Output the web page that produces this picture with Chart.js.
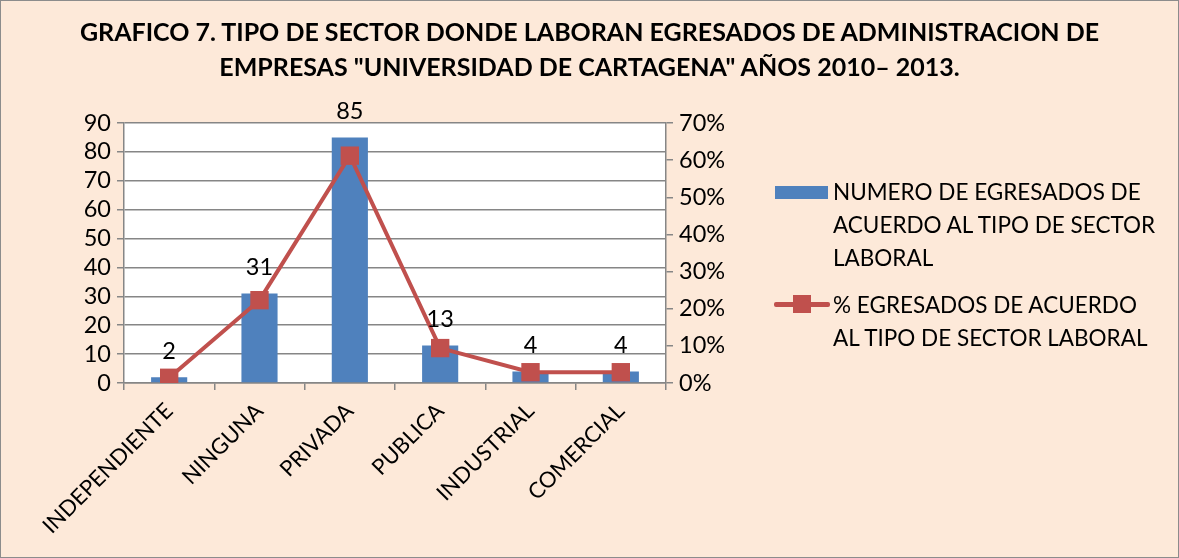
<!DOCTYPE html>
<html>
<head>
<meta charset="utf-8">
<script src="https://cdn.jsdelivr.net/npm/chart.js@4.4.0/dist/chart.umd.min.js"></script>
<style>
  html, body { margin: 0; padding: 0; }
  body { width: 1179px; height: 558px; overflow: hidden; }
  #wrap {
    position: relative; width: 1179px; height: 558px; box-sizing: border-box;
    background: #fde9d9; border: 1px solid #8c8c8c;
  }
  #chart { position: absolute; left: 0; top: 0; }
  #title {
    position: absolute; left: 0; top: 13px; width: 1177px; text-align: center;
    font-family: Lato, "Open Sans", sans-serif; font-weight: bold; font-size: 25px; line-height: 35px; color: #000;
  }
  .legend { position: absolute; font-family: Lato, "Open Sans", sans-serif; font-size: 22.5px; line-height: 33px; color: #000; white-space: nowrap; }
  .swatch { position: absolute; }
</style>
</head>
<body>
<div id="wrap">
  <canvas id="chart" width="1177" height="556"></canvas>
  <div id="title"></div>
  <div class="swatch" style="left:774px; top:185px; width:53px; height:13px; background:#4f81bd;"></div>
  <div class="legend" id="leg1" style="left:832px; top:174px;"></div>
  <div class="swatch" style="left:773px; top:301px; width:56px; height:5px; background:#c0504d; border-radius:2px;"></div>
  <div class="swatch" style="left:792px; top:294px; width:18px; height:18px; background:#c0504d;"></div>
  <div class="legend" id="leg2" style="left:832px; top:287px;"></div>
</div>
<script>
const categories = ["INDEPENDIENTE", "NINGUNA", "PRIVADA", "PUBLICA", "INDUSTRIAL", "COMERCIAL"];
const egresados = [2, 31, 85, 13, 4, 4];
const porcentajes = [0.014, 0.223, 0.612, 0.094, 0.029, 0.029];
const titleLines = [
    "GRAFICO 7. TIPO DE SECTOR DONDE LABORAN EGRESADOS DE ADMINISTRACION DE",
    "EMPRESAS \"UNIVERSIDAD DE CARTAGENA\" AÑOS 2010– 2013."
];
const legendBars = ["NUMERO DE EGRESADOS DE", "ACUERDO AL TIPO DE SECTOR", "LABORAL"];
const legendLine = ["% EGRESADOS DE ACUERDO", "AL TIPO DE SECTOR LABORAL"];

const FONT = "Lato, 'Open Sans', sans-serif";
const GRID = "#868686";

// texts outside the canvas
function fillLines(id, lines) {
    const el = document.getElementById(id);
    lines.forEach((line, i) => {
        if (i) el.appendChild(document.createElement("br"));
        el.appendChild(document.createTextNode(line));
    });
}
fillLines("title", titleLines);
fillLines("leg1", legendBars);
fillLines("leg2", legendLine);

// bar value labels above each bar
const barLabels = {
    id: "barLabels",
    afterDatasetsDraw(chart) {
        const ctx = chart.ctx;
        const meta = chart.getDatasetMeta(1);
        ctx.save();
        ctx.font = "23.5px " + FONT;
        ctx.fillStyle = "#000";
        ctx.textAlign = "center";
        ctx.textBaseline = "middle";
        meta.data.forEach((bar, i) => {
            ctx.fillText(String(egresados[i]), bar.x, bar.y - 26);
        });
        ctx.restore();
    }
};

new Chart(document.getElementById("chart").getContext("2d"), {
    data: {
        labels: categories,
        datasets: [
            {
                type: "line",
                label: legendLine.join(" "),
                data: porcentajes,
                yAxisID: "y2",
                borderColor: "#c0504d",
                backgroundColor: "#c0504d",
                borderWidth: 4,
                pointStyle: "rect",
                pointRadius: 13,
                pointBorderWidth: 0,
                tension: 0,
                order: 0
            },
            {
                type: "bar",
                label: legendBars.join(" "),
                data: egresados,
                yAxisID: "y",
                backgroundColor: "#4f81bd",
                barPercentage: 0.4,
                categoryPercentage: 1,
                order: 1
            }
        ]
    },
    options: {
        responsive: false,
        animation: false,
        layout: { padding: { left: 0, right: 436, top: 122, bottom: 0 } },
        plugins: {
            legend: { display: false },
            tooltip: { enabled: false },
            title: { display: false }
        },
        scales: {
            x: {
                offset: true,
                grid: { offset: true, drawOnChartArea: false, drawTicks: true, tickLength: 7, color: GRID, lineWidth: 1.5 },
                border: { color: GRID, width: 1.5 },
                ticks: { color: "#000", font: { family: FONT, size: 22 }, minRotation: 45, maxRotation: 45, padding: 8, autoSkip: false },
                afterFit(scale) { scale.height = 174; }
            },
            y: {
                position: "left",
                min: 0, max: 90,
                ticks: { stepSize: 10, color: "#000", font: { family: FONT, size: 23.5 }, padding: 6, autoSkip: false },
                grid: { color: GRID, lineWidth: 1.5, tickLength: 7 },
                border: { color: GRID, width: 1.5 },
                afterFit(scale) { scale.width = 123; }
            },
            y2: {
                position: "right",
                min: 0, max: 0.7,
                ticks: {
                    stepSize: 0.1, color: "#000", font: { family: FONT, size: 23.5 }, padding: 6, autoSkip: false,
                    callback: v => Math.round(v * 100) + "%"
                },
                grid: { drawOnChartArea: false, color: GRID, lineWidth: 1.5, tickLength: 7 },
                border: { color: GRID, width: 1.5 },
                afterFit(scale) { scale.width = 76; }
            }
        }
    },
    plugins: [barLabels, {
        id: "plotBg",
        beforeDraw(chart) {
            const a = chart.chartArea;
            chart.ctx.save();
            chart.ctx.fillStyle = "#fff";
            chart.ctx.fillRect(a.left, a.top, a.right - a.left, a.bottom - a.top);
            chart.ctx.restore();
        }
    }]
});
</script>
</body>
</html>
